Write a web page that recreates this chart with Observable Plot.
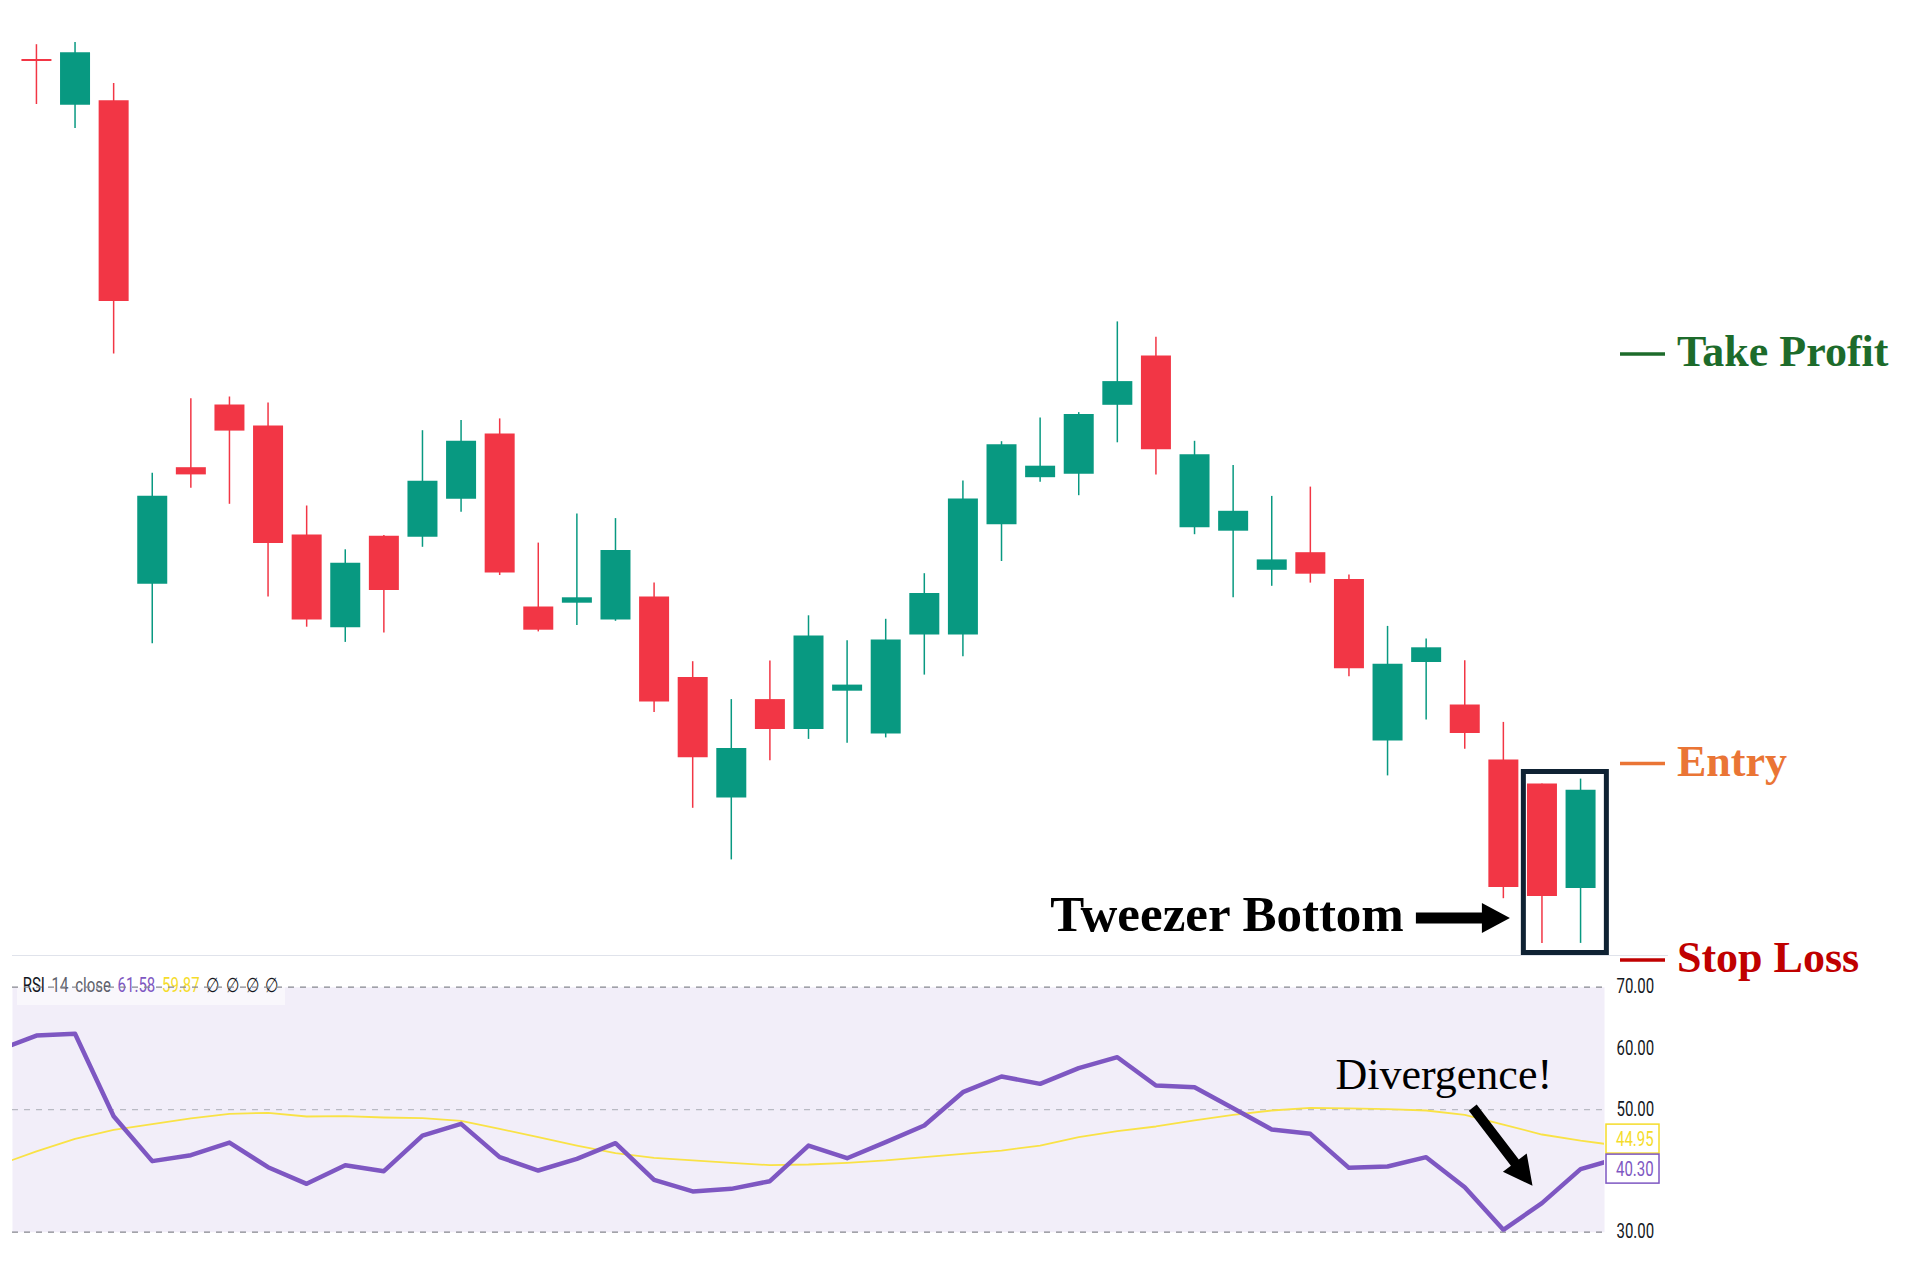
<!DOCTYPE html>
<html><head><meta charset="utf-8">
<script src="https://cdn.jsdelivr.net/npm/d3@7"></script>
<script src="https://cdn.jsdelivr.net/npm/@observablehq/plot@0.6"></script>
<style>
html,body{margin:0;padding:0;background:#fff;}
#wrap{position:relative;width:1920px;height:1278px;overflow:hidden;background:#fff;}
#rsi{position:absolute;left:0;top:956px;z-index:1;}
#main{position:absolute;left:0;top:0;z-index:2;}
#sep{position:absolute;left:12px;top:955px;width:1656px;height:1px;background:#e0e3eb;z-index:0;}
svg{overflow:visible;}
</style></head>
<body><div id="wrap"><div id="sep"></div><div id="rsi"></div><div id="main"></div></div>
<script>
// ---- candle data (price units), one entry per bar, left to right ----
const opens  = [194.10,189.52,189.98,141.62,153.28,159.55,157.45,146.54,137.28,146.42,146.33,150.12,156.65,139.35,139.73,138.04,140.34,132.31,120.25,130.09,127.10,130.93,126.64,136.56,136.56,147.58,152.28,152.63,159.52,164.45,147.27,146.93,143.02,144.78,142.10,125.94,133.80,129.55,124.06,121.65,111.20];
const highs  = [195.58,195.79,191.71,152.73,160.18,160.35,159.76,149.45,145.07,146.50,156.98,158.00,158.16,145.74,148.65,148.19,141.76,133.88,130.09,133.95,138.47,135.98,138.12,142.68,151.94,155.88,158.25,158.79,167.86,166.33,155.92,153.51,150.41,151.34,142.54,137.41,136.16,133.97,127.81,121.65,122.14];
const lows   = [189.60,187.20,164.64,135.68,151.22,149.62,140.36,137.33,135.81,136.74,145.32,148.82,142.50,136.86,137.50,137.92,128.79,119.22,114.06,123.97,126.11,125.73,126.26,132.54,134.37,143.90,151.82,150.48,155.77,152.55,146.58,140.27,141.42,141.74,132.37,122.46,128.04,125.13,110.18,105.71,105.71];
const closes = [193.90,194.78,169.90,150.42,152.56,156.94,145.70,138.04,143.72,140.99,151.93,155.93,142.76,137.03,140.27,144.99,129.86,124.27,125.19,127.10,136.44,131.54,136.06,140.69,150.14,155.57,153.43,158.60,161.89,155.08,154.58,148.92,144.06,142.63,133.17,133.62,135.27,126.70,111.30,110.40,121.03];

// ---- RSI(14) and its moving average: bar -1 (off-screen left) ... bar 41 (off-screen right) ----
const rsiValues = [59.70,62.11,62.39,48.94,41.60,42.57,44.64,40.61,37.90,40.94,39.96,45.78,47.69,42.25,40.07,41.98,44.53,38.55,36.65,37.08,38.33,44.15,42.08,44.70,47.42,52.86,55.42,54.22,56.78,58.57,53.95,53.67,50.25,46.77,46.06,40.51,40.73,42.25,37.35,30.39,34.74,40.30,42.12];
const rsiMA     = [40.95,43.18,45.25,46.72,47.64,48.57,49.33,49.49,48.89,48.94,48.73,48.62,48.19,46.88,45.51,44.15,42.90,42.14,41.71,41.33,40.94,41.05,41.33,41.71,42.25,42.79,43.33,44.15,45.51,46.50,47.26,48.24,49.16,49.87,50.31,50.20,50.08,49.87,49.16,47.58,45.95,44.95,44.11];
const rsiTicks = [30, 50, 60, 70];
const rsiBands = [70, 30];
const rsiMid = [50];
const legendParts = [["RSI","#131722"],["14 close","#5d606b"],["61.58","#7e57c2"],["59.87","#f5dc2a"],["∅ ∅ ∅ ∅","#131722"]];

// ---- trade levels ----
const levelNames  = ["Take Profit", "Entry", "Stop Loss"];
const levelPrices = [164.6, 123.65, 104.0];
const levelColors = ["#1d6b2b", "#ea7535", "#c00000"];

const tweezerIdx = [39, 40];

const GREEN = "#089981", RED = "#f23645", PURPLE = "#7e57c2", YELLOW = "#f9e246";

const candles = opens.map((o, i) => ({i, open: o, high: highs[i], low: lows[i], close: closes[i], color: closes[i] >= o ? GREEN : RED}));
const rsiData = rsiValues.map((v, k) => ({i: k - 1, v}));
const maData = rsiMA.map((v, k) => ({i: k - 1, v}));
const levels = levelNames.map((n, k) => ({name: n, price: levelPrices[k], color: levelColors[k]}));
const tw = tweezerIdx.map(i => candles[i]);
const tweezerBox = [{x1: tweezerIdx[0], x2: tweezerIdx[1], y1: d3.min(tw, d => d.low), y2: d3.max(tw, d => d.high)}];

function arrowPath(x0, y0, x1, y1, sw, hl, hw) {
  const dx = x1 - x0, dy = y1 - y0, L = Math.hypot(dx, dy);
  const ux = dx / L, uy = dy / L, nx = -uy, ny = ux;
  const bx = x1 - ux * hl, by = y1 - uy * hl;
  const p = [
    [x0 + nx * sw / 2, y0 + ny * sw / 2], [bx + nx * sw / 2, by + ny * sw / 2], [bx + nx * hw / 2, by + ny * hw / 2],
    [x1, y1],
    [bx - nx * hw / 2, by - ny * hw / 2], [bx - nx * sw / 2, by - ny * sw / 2], [x0 - nx * sw / 2, y0 - ny * sw / 2]
  ];
  return "M" + p.map(q => q[0].toFixed(1) + "," + q[1].toFixed(1)).join("L") + "Z";
}

const SERIF = "'Liberation Serif', 'Times New Roman', serif";
const xDomain = [-0.62, 40.62];
const W = 1920, ML = 12, MR = 316;

// ---------------- main price pane ----------------
const main = Plot.plot({
  width: W, height: 956, marginLeft: ML, marginRight: MR, marginTop: 0, marginBottom: 0,
  x: {domain: xDomain, axis: null},
  y: {domain: [104.4, 200], axis: null},
  color: {type: "identity"},
  style: {background: "transparent", overflow: "visible"},
  marks: [
    Plot.ruleX(candles, {x: "i", y1: "low", y2: "high", stroke: "color", strokeWidth: 1.5}),
    Plot.ruleX(candles, {x: "i", y1: "open", y2: "close", stroke: "color", strokeWidth: 30}),
    Plot.rect(tweezerBox, {x1: "x1", x2: "x2", y1: "y1", y2: "y2", fill: "none", stroke: "#0f2233", strokeWidth: 5,
      insetLeft: -18.1, insetRight: -26.3, insetTop: -7.1, insetBottom: -9.6}),
    (index, scales, values, dims) => {
      const g = d3.create("svg:g");
      const x0 = dims.width - dims.marginRight;
      for (const l of levels) {
        const y = scales.y(l.price);
        g.append("line").attr("x1", x0 + 16).attr("x2", x0 + 61).attr("y1", y).attr("y2", y)
          .attr("stroke", l.color).attr("stroke-width", 3.5);
        g.append("text").attr("x", x0 + 73).attr("y", y + 12).attr("fill", l.color).attr("text-anchor", "start")
          .attr("font-family", SERIF).attr("font-weight", "bold").attr("font-size", 44).text(l.name);
      }
      // Tweezer Bottom label + arrow
      const boxLeft = scales.x(tweezerIdx[0]) - 18.1 - 2.5;
      const tipX = boxLeft - 11;
      const cy = scales.y(tweezerBox[0].y1) - 25;
      g.append("path").attr("d", arrowPath(tipX - 94, cy, tipX, cy, 11, 28, 30)).attr("fill", "#000");
      g.append("text").attr("x", tipX - 106).attr("y", cy + 13).attr("text-anchor", "end").attr("fill", "#000")
        .attr("font-family", SERIF).attr("font-weight", "bold").attr("font-size", 51).text("Tweezer Bottom");
      return g.node();
    }
  ]
});
document.getElementById("main").appendChild(main);

// ---------------- RSI pane ----------------
const rsi = Plot.plot({
  width: W, height: 322, marginLeft: ML, marginRight: MR, marginTop: 30.7, marginBottom: 46.3,
  x: {domain: xDomain, axis: null},
  y: {domain: [30, 70]},
  style: {background: "transparent", overflow: "visible", fontFamily: "Roboto, sans-serif", color: "#131722"},
  marks: [
    Plot.frame({fill: PURPLE, fillOpacity: 0.1, stroke: "none"}),
    (index, scales, values, dims) => {
      const g = d3.create("svg:g");
      g.append("rect").attr("x", 17).attr("y", 17).attr("width", 268).attr("height", 32)
        .attr("fill", "#fff").attr("fill-opacity", 0.55);
      const t = g.append("text").attr("transform", "translate(22.7,36.3) scale(1,1.3)").attr("text-anchor", "start")
        .attr("font-family", "Roboto, sans-serif").attr("font-size", 15).attr("word-spacing", 3);
      legendParts.forEach(([s, c], k) => t.append("tspan").attr("fill", c).text((k ? " " : "") + s));
      return g.node();
    },
    Plot.ruleY(rsiMid, {stroke: "#b9bac3", strokeWidth: 1.2, strokeDasharray: "6,6"}),
    Plot.ruleY(rsiBands, {stroke: "#85878f", strokeWidth: 1.2, strokeDasharray: "6,6"}),
    Plot.line(maData, {x: "i", y: "v", stroke: YELLOW, strokeWidth: 1.8, clip: true}),
    Plot.line(rsiData, {x: "i", y: "v", stroke: PURPLE, strokeWidth: 4.5, clip: true}),
    Plot.axisY({anchor: "right", ticks: rsiTicks, tickFormat: d => d.toFixed(2), tickSize: 0, tickPadding: 12,
      fontSize: 15, label: null, fill: "#131722", textAnchor: "start"}),
    (index, scales, values, dims) => {
      const g = d3.create("svg:g");
      const xr = dims.width - dims.marginRight;
      const lastR = rsiValues[rsiValues.length - 2], lastM = rsiMA[rsiMA.length - 2];
      const h = 29;
      let yR = scales.y(lastR), yM = scales.y(lastM);
      if (yR - yM < h + 1) yM = yR - h - 1;
      for (const [v, y, c] of [[lastM, yM, "#f5dc2a"], [lastR, yR, PURPLE]]) {
        g.append("rect").attr("x", xr + 2).attr("y", y - h / 2).attr("width", 53).attr("height", h)
          .attr("fill", "#fff").attr("stroke", c).attr("stroke-width", 1.5);
        g.append("text").attr("transform", `translate(${xr + 12},${y}) scale(1,1.3)`).attr("dy", "0.36em")
          .attr("text-anchor", "start").attr("fill", c).attr("font-family", "Roboto, sans-serif")
          .attr("font-size", 15).text(v.toFixed(2));
      }
      // Divergence! label + arrow
      const tipX = scales.x(tweezerIdx[0]) - 9, tipY = scales.y(rsiValues[tweezerIdx[0] + 1]) - 17;
      g.append("path").attr("d", arrowPath(tipX - 59.7, tipY - 78, tipX, tipY, 10, 29, 30)).attr("fill", "#000");
      g.append("text").attr("x", tipX - 197).attr("y", tipY - 97).attr("fill", "#000").attr("text-anchor", "start")
        .attr("font-family", SERIF).attr("font-size", 44).text("Divergence!");
      return g.node();
    }
  ]
});
rsi.querySelectorAll("text").forEach(t => {
  const tr = t.getAttribute("transform");
  if (tr && tr.includes("translate") && !tr.includes("scale")) t.setAttribute("transform", tr + " scale(1,1.3)");
});
document.getElementById("rsi").appendChild(rsi);
</script>
</body></html>
